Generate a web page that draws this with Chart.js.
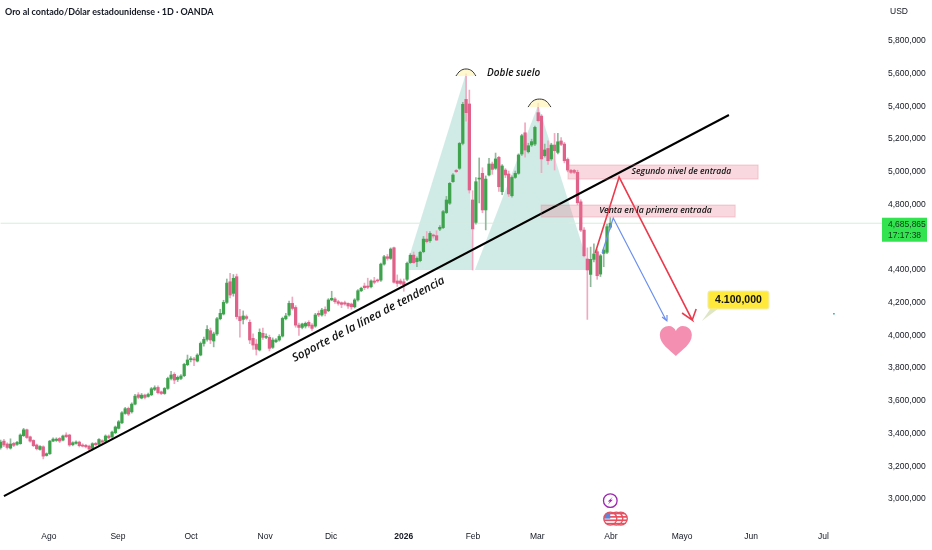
<!DOCTYPE html>
<html>
<head>
<meta charset="utf-8">
<script src="https://cdn.jsdelivr.net/npm/chart.js@4"></script>
<style>
  html, body { margin: 0; padding: 0; background: #fff; }
  canvas { display: block; }
</style>
</head>
<body>
<canvas id="goldChart" width="932" height="550"></canvas>
<script>
// Precios en miles de USD, una vela por dia
const opens = [
  3315,3354,3336,3311,3340,3334,3338,3387,3423,3380,
  3358,3330,3303,3319,3266,3277,3354,3358,3370,3360,
  3391,3391,3332,3340,3348,3330,3328,3323,3309,3340,
  3334,3356,3354,3385,3380,3405,3432,3466,3523,3554,
  3533,3580,3637,3617,3635,3627,3637,3670,3682,3655,
  3645,3676,3737,3762,3731,3737,3754,3821,3852,3856,
  3843,3880,3951,3976,4029,3966,4009,4102,4131,4202,
  4328,4257,4359,4115,4098,4115,4080,3982,3947,3911,
  4013,3988,3988,3927,3962,3972,3996,4102,4125,4196,
  4171,4063,4049,4057,4080,4063,4057,4135,4125,4159,
  4151,4217,4223,4206,4200,4200,4196,4192,4175,4217,
  4273,4302,4302,4298,4333,4338,4338,4436,4481,4471,
  4536,4333,4333,4328,4343,4445,4491,4451,4457,4512,
  4589,4579,4614,4610,4650,4659,4751,4808,4940,5009,
  5022,5174,5443,5415,4828,4691,4956,4991,4767,4981,
  5048,5022,5089,4879,5011,4987,4854,4966,4991,5109,
  5239,5123,5164,5170,5362,5341,5099,5143,5079,5164,
  5119,5189,5170,5076,5009,5009,4997,4817,4644,4467,
  4373,4465,4512,4375,4501,4508,4661
];
const closes = [
  3348,3330,3315,3336,3328,3346,3391,3423,3376,3354,
  3326,3307,3321,3262,3277,3354,3366,3366,3354,3385,
  3381,3330,3344,3348,3326,3323,3319,3305,3338,3332,
  3364,3348,3385,3374,3409,3440,3472,3527,3552,3519,
  3580,3629,3621,3635,3621,3639,3674,3680,3650,3645,
  3676,3737,3758,3727,3744,3752,3823,3850,3856,3850,
  3880,3951,3976,4037,3972,4009,4102,4135,4202,4320,
  4247,4349,4115,4090,4119,4104,3972,3941,3915,4019,
  3988,3992,3921,3972,3972,3994,4104,4119,4196,4165,
  4063,4049,4070,4074,4059,4043,4125,4125,4155,4135,
  4217,4227,4206,4196,4190,4192,4180,4175,4217,4273,
  4288,4292,4294,4333,4325,4333,4436,4481,4471,4528,
  4325,4318,4318,4308,4441,4490,4445,4471,4508,4589,
  4573,4624,4608,4583,4661,4757,4828,4930,4981,5001,
  5174,5413,5362,4889,4651,4940,4960,4767,4956,5048,
  5015,5079,4909,5036,4981,4865,4966,4991,5103,5221,
  5133,5160,5185,5272,5313,5079,5134,5068,5164,5129,
  5184,5168,5068,5011,4997,4997,4811,4644,4487,4400,
  4465,4498,4365,4487,4522,4665,4685.9
];
const highs = [
  3360,3365,3344,3368,3346,3352,3398,3432,3428,3385,
  3362,3336,3326,3325,3282,3358,3374,3374,3376,3390,
  3405,3396,3350,3355,3354,3338,3334,3330,3344,3346,
  3370,3362,3392,3392,3415,3446,3480,3535,3560,3562,
  3588,3640,3650,3645,3642,3648,3682,3692,3692,3660,
  3682,3745,3780,3772,3752,3760,3830,3880,3870,3866,
  3888,3960,3990,4060,4045,4020,4110,4160,4215,4345,
  4380,4372,4375,4160,4150,4125,4095,4010,3975,4040,
  4045,4010,4002,3985,3980,4005,4112,4135,4210,4235,
  4182,4075,4075,4082,4090,4072,4135,4150,4165,4175,
  4225,4270,4232,4215,4205,4210,4200,4198,4225,4280,
  4295,4320,4350,4340,4355,4345,4442,4490,4495,4535,
  4540,4370,4345,4345,4448,4500,4510,4480,4515,4605,
  4635,4635,4620,4640,4672,4765,4850,4935,4990,5015,
  5180,5425,5600,5500,4885,4965,5085,5025,4975,5082,
  5060,5115,5095,5045,5020,5005,4975,5005,5110,5230,
  5300,5175,5200,5280,5420,5350,5170,5190,5175,5235,
  5235,5210,5180,5085,5015,5015,5010,4830,4660,4535,
  4540,4560,4525,4495,4535,4680,4720
];
const lows = [
  3305,3320,3305,3305,3320,3328,3335,3382,3370,3348,
  3320,3300,3298,3245,3262,3272,3350,3352,3345,3355,
  3375,3322,3325,3335,3318,3318,3312,3295,3300,3325,
  3328,3342,3348,3368,3372,3400,3428,3460,3518,3510,
  3525,3575,3612,3612,3612,3622,3632,3662,3642,3638,
  3640,3670,3728,3705,3718,3730,3748,3815,3838,3815,
  3838,3875,3935,3965,3950,3930,4000,4095,4125,4195,
  4230,4240,4100,3990,4070,4095,3950,3915,3880,3905,
  3975,3980,3905,3920,3955,3965,3990,4095,4118,4155,
  4050,4000,4040,4045,4050,4030,4050,4115,4118,4120,
  4145,4212,4195,4185,4170,4185,4165,4160,4168,4210,
  4268,4280,4285,4290,4315,4325,4330,4430,4460,4465,
  4320,4300,4310,4270,4335,4440,4440,4420,4450,4505,
  4565,4568,4595,4580,4640,4652,4745,4800,4935,4995,
  5015,5165,5310,4870,4400,4680,4810,4750,4645,4975,
  4985,5015,4880,4860,4965,4850,4845,4960,4985,5100,
  5090,5115,5155,5160,5305,4995,5090,5045,5070,5011,
  5110,5160,5055,5000,4990,4990,4800,4635,4480,4098,
  4298,4450,4343,4360,4420,4500,4650
];

const monthLabels = ['Ago','Sep','Oct','Nov','Dic','2026','Feb','Mar','Abr','Mayo','Jun','Jul'];
const monthBars = [14.7,35.8,58.1,80.7,100.8,123,144.1,163.7,186.2,207.9,229,251];
const priceTicks = [3000,3200,3400,3600,3800,4000,4200,4400,4600,4800,5000,5200,5400,5600,5800];

// Dibujos encima del grafico (barra, precio)
const trendBars = [1, 222.2];
const trendPrices = [3018, 5347.6];
const peakOneBars = [123.4, 142, 144.1];
const peakOnePrices = [4400, 5604, 4400];
const peakTwoBars = [144.7, 164, 179.8];
const peakTwoPrices = [4400, 5409, 4400];
const capOneBars = [138.9, 140.2, 142, 143.8, 145];
const capOnePrices = [5586, 5617, 5629, 5617, 5586];
const capTwoBars = [160.9, 162.4, 164.4, 166.4, 167.9];
const capTwoPrices = [5396, 5433, 5445, 5433, 5396];
const zoneOneBars = [173.1, 231.1];
const zoneOneTop = [5041.9, 5041.9];
const zoneOneBottom = 4956;
const zoneTwoBars = [164.9, 224.1];
const zoneTwoTop = [4797, 4797];
const zoneTwoBottom = 4724;
const redArrowBars = [181.4, 188.7, 211, 207.9, 211, 212.2];
const redArrowPrices = [4504, 4968.5, 4094, 4137, 4094, 4161];
const blueArrowBars = [183.5, 186.9, 203, 201.8, 203, 203.3];
const blueArrowPrices = [4504, 4718, 4094, 4113, 4094, 4125];
const lastPriceBars = [0, 268.9];
const lastPrice = [4685.9, 4685.9];

const bars = opens.map((o, i) => i);
const bodyColors = opens.map((o, i) => closes[i] >= o ? '#3fa34e' : '#e0628b');
const wickColors = opens.map((o, i) => closes[i] >= o ? '#8fb89a' : '#efa9c0');

function lineSet(xs, ys, color, width, order, extra) {
  return Object.assign({
    type: 'line',
    data: xs.map((x, i) => ({ x: x, y: ys[i] })),
    borderColor: color,
    borderWidth: width,
    pointRadius: 0,
    tension: 0,
    order: order
  }, extra || {});
}

function drawText(ctx, text, x, y, font, color, align) {
  ctx.font = font;
  ctx.fillStyle = color;
  ctx.textAlign = align || 'left';
  ctx.textBaseline = 'middle';
  ctx.fillText(text, x, y);
}

function drawHeart(ctx, cx, cy) {
  ctx.fillStyle = '#f48fb1';
  ctx.beginPath();
  ctx.moveTo(cx, cy + 15);
  ctx.bezierCurveTo(cx - 6, cy + 9, cx - 16, cy + 3, cx - 16, cy - 6);
  ctx.bezierCurveTo(cx - 16, cy - 12, cx - 11, cy - 15, cx - 7, cy - 15);
  ctx.bezierCurveTo(cx - 4, cy - 15, cx - 1, cy - 13, cx, cy - 10);
  ctx.bezierCurveTo(cx + 1, cy - 13, cx + 4, cy - 15, cx + 7, cy - 15);
  ctx.bezierCurveTo(cx + 11, cy - 15, cx + 16, cy - 12, cx + 16, cy - 6);
  ctx.bezierCurveTo(cx + 16, cy + 3, cx + 6, cy + 9, cx, cy + 15);
  ctx.fill();
}

function drawFlag(ctx, cx, cy) {
  ctx.save();
  ctx.beginPath();
  ctx.arc(cx, cy, 6.5, 0, Math.PI * 2);
  ctx.fillStyle = '#fff';
  ctx.fill();
  ctx.clip();
  ctx.fillStyle = '#e8505f';
  for (let k = 0; k < 4; k++) ctx.fillRect(cx - 7, cy - 6 + k * 3.4, 14, 1.7);
  ctx.fillStyle = '#5d86d8';
  ctx.fillRect(cx - 7, cy - 7, 7, 7);
  ctx.restore();
  ctx.strokeStyle = '#e8505f';
  ctx.lineWidth = 1.3;
  ctx.beginPath();
  ctx.arc(cx, cy, 6.5, 0, Math.PI * 2);
  ctx.stroke();
}

const overlay = {
  id: 'overlay',
  afterDraw(chart) {
    const ctx = chart.ctx;
    const px = v => chart.scales.x.getPixelForValue(v);
    const py = v => chart.scales.y.getPixelForValue(v);
    ctx.save();

    drawText(ctx, 'Oro al contado/Dólar estadounidense · 1D · OANDA', 5, 12, 'bold 8.95px Lato', '#131722');
    drawText(ctx, 'USD', 890, 12, '8.5px "Liberation Sans"', '#131722');

    // borde de las dos zonas de entrada
    ctx.strokeStyle = 'rgba(226,120,140,0.35)';
    ctx.lineWidth = 1;
    ctx.strokeRect(px(zoneOneBars[0]), py(zoneOneTop[0]), px(zoneOneBars[1]) - px(zoneOneBars[0]), py(zoneOneBottom) - py(zoneOneTop[0]));
    ctx.strokeRect(px(zoneTwoBars[0]), py(zoneTwoTop[0]), px(zoneTwoBars[1]) - px(zoneTwoBars[0]), py(zoneTwoBottom) - py(zoneTwoTop[0]));

    drawText(ctx, 'Doble suelo', px(148.4), py(5605), 'italic 600 10px "Open Sans"', '#111');
    drawText(ctx, 'Segundo nivel de entrada', px(192.5), py(4999), 'italic 600 8.6px "Open Sans"', '#111');
    drawText(ctx, 'Venta en la primera entrada', px(182.6), py(4761), 'italic 600 8.7px "Open Sans"', '#111');

    // texto sobre la linea de tendencia
    ctx.save();
    ctx.translate(px(89.2), py(3856));
    ctx.rotate(-27.7 * Math.PI / 180);
    drawText(ctx, 'Soporte de la línea de tendencia', 0, 0, 'italic 600 11.6px "Open Sans"', '#111');
    ctx.restore();

    // etiqueta del ultimo precio
    ctx.fillStyle = '#33e350';
    ctx.fillRect(882, py(lastPrice[0]) - 5.5, 45, 24);
    drawText(ctx, '4,685,865', 888, py(lastPrice[0]) + 1, '8.5px "Liberation Sans"', '#0d3b16');
    drawText(ctx, '17:17:38', 888, py(lastPrice[0]) + 12, '8.5px "Liberation Sans"', '#0d3b16');

    // globo amarillo
    const boxX = px(215.8), boxY = py(4271.5);
    ctx.fillStyle = '#dfe6c6';
    ctx.beginPath();
    ctx.moveTo(boxX + 3, boxY + 17);
    ctx.lineTo(boxX - 6, boxY + 30);
    ctx.lineTo(boxX + 11, boxY + 17);
    ctx.fill();
    ctx.fillStyle = '#ffe93b';
    ctx.strokeStyle = '#eeeeb8';
    ctx.lineWidth = 1;
    ctx.beginPath();
    ctx.roundRect(boxX, boxY, 61, 18, 2);
    ctx.fill();
    ctx.stroke();
    drawText(ctx, '4.100,000', boxX + 30.5, boxY + 9.5, 'bold 10.5px "Liberation Sans"', '#111', 'center');

    drawHeart(ctx, px(206), py(3966));

    // punto suelto
    ctx.fillStyle = '#26a69a';
    ctx.fillRect(px(254), py(4137), 1.5, 1.5);

    // iconos de eventos
    const iconX = px(186), iconY = py(2990);
    ctx.strokeStyle = '#9c27b0';
    ctx.lineWidth = 1.3;
    ctx.beginPath();
    ctx.arc(iconX, iconY, 6.8, 0, Math.PI * 2);
    ctx.stroke();
    ctx.fillStyle = '#9c27b0';
    ctx.beginPath();
    ctx.moveTo(iconX + 2.5, iconY - 4);
    ctx.lineTo(iconX - 2.5, iconY + 0.8);
    ctx.lineTo(iconX - 0.3, iconY + 0.8);
    ctx.lineTo(iconX - 2.5, iconY + 4);
    ctx.lineTo(iconX + 2.5, iconY - 0.8);
    ctx.lineTo(iconX + 0.3, iconY - 0.8);
    ctx.fill();
    drawFlag(ctx, iconX + 10.5, iconY + 18);
    drawFlag(ctx, iconX + 6, iconY + 18);
    drawFlag(ctx, iconX, iconY + 18);

    ctx.restore();
  }
};

new Chart(document.getElementById('goldChart'), {
  type: 'bar',
  data: {
    datasets: [
      lineSet(peakOneBars, peakOnePrices, 'rgba(0,0,0,0)', 0, 30, { fill: { value: 4400 }, backgroundColor: 'rgba(170,219,208,0.55)' }),
      lineSet(peakTwoBars, peakTwoPrices, 'rgba(0,0,0,0)', 0, 30, { fill: { value: 4400 }, backgroundColor: 'rgba(170,219,208,0.55)' }),
      lineSet(lastPriceBars, lastPrice, '#d5eedb', 1, 29),
      lineSet(zoneOneBars, zoneOneTop, 'rgba(0,0,0,0)', 0, 5, { fill: { value: zoneOneBottom }, backgroundColor: 'rgba(233,120,140,0.28)' }),
      lineSet(zoneTwoBars, zoneTwoTop, 'rgba(0,0,0,0)', 0, 5, { fill: { value: zoneTwoBottom }, backgroundColor: 'rgba(233,120,140,0.28)' }),
      {
        label: 'cuerpo',
        data: bars.map(i => ({ x: i, y: [opens[i], closes[i]] })),
        backgroundColor: bodyColors,
        barThickness: 2.6,
        minBarLength: 1,
        grouped: false,
        order: 10
      },
      {
        label: 'mecha',
        data: bars.map(i => ({ x: i, y: [lows[i], highs[i]] })),
        backgroundColor: wickColors,
        barThickness: 1,
        grouped: false,
        order: 11
      },
      lineSet(capOneBars, capOnePrices, '#333', 1, 4, { tension: 0.4, fill: { value: 5586 }, backgroundColor: 'rgba(255,245,190,0.75)' }),
      lineSet(capTwoBars, capTwoPrices, '#333', 1, 4, { tension: 0.4, fill: { value: 5396 }, backgroundColor: 'rgba(255,245,190,0.75)' }),
      lineSet(redArrowBars, redArrowPrices, '#ea3a4c', 1.6, 2),
      lineSet(blueArrowBars, blueArrowPrices, '#6a8ff0', 1.2, 3),
      lineSet(trendBars, trendPrices, '#000', 2, 1)
    ]
  },
  options: {
    responsive: false,
    animation: false,
    layout: { padding: 0 },
    plugins: { legend: { display: false }, tooltip: { enabled: false } },
    scales: {
      x: {
        type: 'linear',
        offset: false,
        min: -0.2,
        max: 268.9,
        border: { display: false },
        grid: { display: false, drawTicks: false },
        afterBuildTicks: axis => { axis.ticks = monthBars.map(v => ({ value: v })); },
        afterFit: axis => { axis.height = 25; axis.paddingLeft = 0; axis.paddingRight = 0; },
        ticks: {
          autoSkip: false,
          maxRotation: 0,
          padding: 7,
          color: '#131722',
          font: c => ({ family: '"Liberation Sans"', size: 8.5, weight: c.index === 5 ? 'bold' : 'normal' }),
          callback: (v, i) => monthLabels[i]
        }
      },
      y: {
        position: 'right',
        min: 2841,
        max: 6050.7,
        border: { display: false },
        grid: { display: false, drawTicks: false },
        afterBuildTicks: axis => { axis.ticks = priceTicks.map(v => ({ value: v })); },
        afterFit: axis => { axis.width = 50; axis.paddingTop = 0; axis.paddingBottom = 0; },
        ticks: {
          autoSkip: false,
          padding: 6,
          color: '#131722',
          font: { family: '"Liberation Sans"', size: 8.5 },
          callback: v => v === 4600 ? '' : (v * 1000).toLocaleString('en-US')
        }
      }
    }
  },
  plugins: [overlay]
});
</script>
</body>
</html>
